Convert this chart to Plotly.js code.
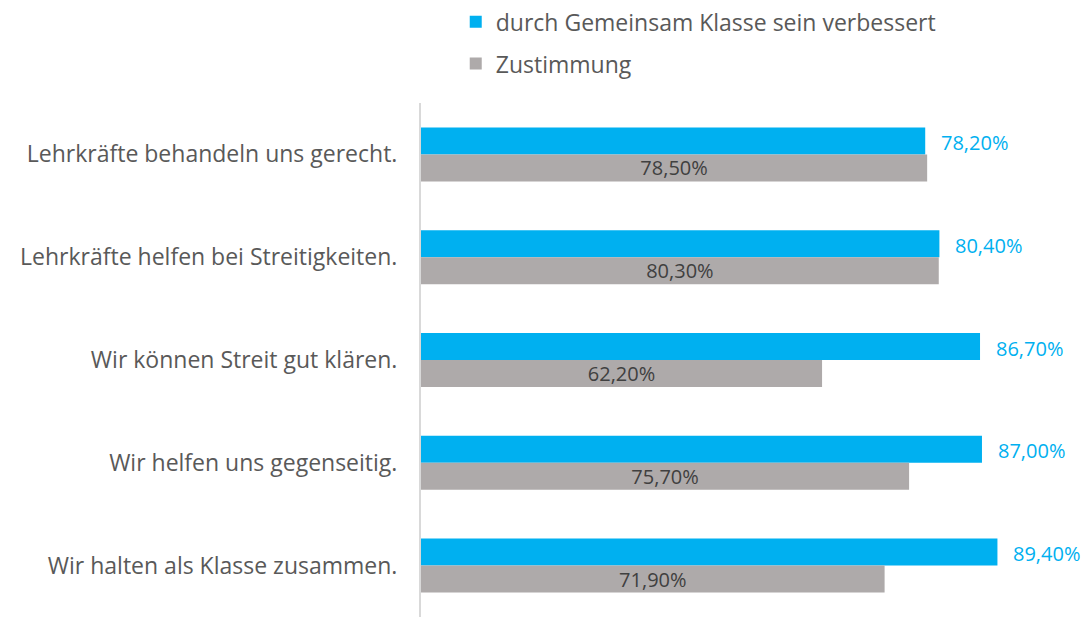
<!DOCTYPE html>
<html><head><meta charset="utf-8">
<script src="https://cdn.plot.ly/plotly-3.0.1.min.js"></script>
<style>html,body{margin:0;padding:0;background:#fff}#chart{width:1089px;height:617px}</style>
</head><body><div id="chart"></div>
<script>
const categories = [
  "Lehrkräfte behandeln uns gerecht.",
  "Lehrkräfte helfen bei Streitigkeiten.",
  "Wir können Streit gut klären.",
  "Wir helfen uns gegenseitig.",
  "Wir halten als Klasse zusammen."
];
const seriesNames = ["durch Gemeinsam Klasse sein verbessert", "Zustimmung"];
const verbessert = [78.2, 80.4, 86.7, 87.0, 89.4];
const zustimmung = [78.5, 80.3, 62.2, 75.7, 71.9];

const fmt = v => v.toFixed(2).replace('.', ',') + '%';
const FONT = '"Open Sans", "Noto Sans", sans-serif';
const BLUE = '#00B0F0', GRAY = '#AEAAAA';

const traces = [
  {
    type: 'bar', orientation: 'h', name: seriesNames[0],
    y: categories, x: verbessert,
    marker: {color: BLUE}, legendgroup: 'a', hoverinfo: 'none'
  },
  {
    type: 'bar', orientation: 'h', name: seriesNames[1],
    y: categories, x: zustimmung, text: zustimmung.map(fmt),
    textposition: 'inside', insidetextanchor: 'middle', constraintext: 'none',
    textfont: {family: FONT, size: 20, color: '#404040'},
    marker: {color: GRAY}, legendgroup: 'b', hoverinfo: 'none'
  }
];

const annotations = verbessert.map((v, i) => ({
  x: v, y: categories[i], xref: 'x', yref: 'y',
  text: fmt(v), showarrow: false, xanchor: 'left', yanchor: 'middle',
  xshift: 14, yshift: 12,
  font: {family: FONT, size: 20, color: BLUE}
}));

const layout = {
  width: 1089, height: 617,
  margin: {l: 421, r: 0, t: 103, b: 0},
  paper_bgcolor: '#ffffff', plot_bgcolor: '#ffffff',
  barmode: 'group', bargap: 0.475, bargroupgap: 0,
  font: {family: FONT, color: '#595959', size: 20},
  showlegend: true,
  legend: {
    x: 0.052, y: 1.2, xanchor: 'left', yanchor: 'top',
    orientation: 'v', traceorder: 'grouped', tracegroupgap: 9,
    font: {family: FONT, size: 23, color: '#595959'}
  },
  annotations: annotations,
  xaxis: {range: [0, 103.6], showgrid: false, zeroline: false, showticklabels: false, showline: false, fixedrange: true},
  yaxis: {
    type: 'category', autorange: 'reversed', showgrid: false, zeroline: false, automargin: false,
    showline: true, linecolor: '#d9d9d9', linewidth: 2, ticks: '',
    ticklabelstandoff: 17,
    tickfont: {family: FONT, size: 23, color: '#595959'}
  }
};

Plotly.newPlot('chart', traces, layout, {staticPlot: true, displayModeBar: false});
</script>
</body></html>
